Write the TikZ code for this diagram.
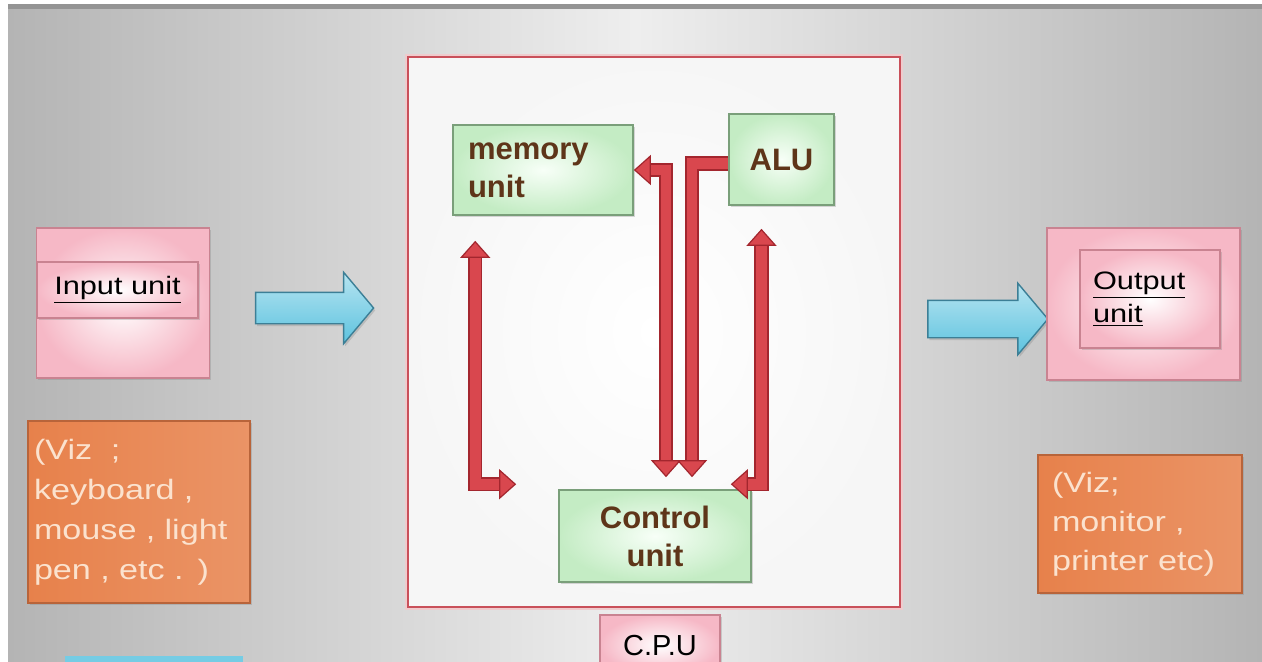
\documentclass[tikz,border=0pt]{standalone}
\usepackage{fontspec}
\setmainfont{Liberation Sans}
\newfontfamily\widefont[FakeStretch=1.22]{Liberation Sans}
\usepackage{tikz}
\usetikzlibrary{positioning}
\usetikzlibrary{calc}
\usetikzlibrary{arrows.meta,shapes.arrows}
\usetikzlibrary{shadows}
\definecolor{bgedge}{HTML}{B4B4B4}
\definecolor{bgmid}{HTML}{EEEEEE}
\definecolor{cpuline}{HTML}{C9505A}
\definecolor{boxgreen}{HTML}{C4ECC4}
\definecolor{greenline}{HTML}{7A9F7A}
\definecolor{boxpink}{HTML}{F6B8C6}
\definecolor{pinkline}{HTML}{C98391}
\definecolor{boxorange}{HTML}{E7814B}
\definecolor{orangeline}{HTML}{B8643A}
\definecolor{orangetext}{HTML}{FBE2CE}
\definecolor{labelbrown}{HTML}{5E3519}
\definecolor{flowred}{HTML}{D9474E}
\definecolor{flowedge}{HTML}{A3262E}
\definecolor{arrowblue}{HTML}{5DC3DF}
\definecolor{arrowline}{HTML}{3C7F96}

\tikzset{
  boxshadow/.style={drop shadow={shadow xshift=0.8pt, shadow yshift=-1.2pt, opacity=0.3}},
  cpubox/.style={draw=cpuline, line width=1pt, inner color=white, outer color=gray!7,
    preaction={draw=cpuline!30, line width=3pt}},
  unitbox/.style={draw=greenline, line width=0.8pt, inner color=green!3, outer color=boxgreen,
    boxshadow, text=labelbrown, font=\fontsize{15.5}{19}\selectfont\bfseries},
  iobox/.style={draw=pinkline, line width=0.8pt, inner color=white, outer color=boxpink,
    boxshadow, text=black, font=\widefont\fontsize{12.6}{16.5}\selectfont},
  vizbox/.style={draw=orangeline, line width=0.8pt, left color=boxorange, right color=boxorange!85!white,
    boxshadow, text=orangetext, align=left, anchor=center},
  ftip/.tip={Triangle[width=15pt,length=8.5pt,fill=flowred,color=flowedge,line width=0.6pt]},
  flowboth/.style={draw=flowred, line width=5.4pt, arrows=ftip-ftip,
    preaction={draw=flowedge, line width=7.2pt, arrows=-, shorten <=8pt, shorten >=8pt}},
  flowend/.style={draw=flowred, line width=5.4pt, arrows=-ftip,
    preaction={draw=flowedge, line width=7.2pt, arrows=-, shorten >=8pt}},
  bigarrow/.style={single arrow, draw=arrowline, line width=0.7pt, top color=arrowblue!45!white,
    bottom color=arrowblue, single arrow tip angle=100, inner xsep=0pt, boxshadow}
}

\begin{document}
\begin{tikzpicture}[x=0.5pt, y=-0.5pt]

\useasboundingbox (0,0) rectangle (1262,661);
\clip (0,0) rectangle (1262,661);

% slide background
\fill[white] (0,0) rectangle (1262,661);
\shade[left color=bgedge, right color=bgedge, middle color=bgmid] (8,4) rectangle (1262,661);
\fill[black!42] (8,4) rectangle (1262,9);
\fill[arrowblue!85] (65,656) rectangle (243,672);

% processor
\node[cpubox, minimum width=246pt, minimum height=275pt] (cpu) at (654,332) {};
\node[iobox, font=\fontsize{14.5}{17}\selectfont, minimum width=60pt, minimum height=30pt] (cpulabel) at (660,645) {C.P.U};

\node[unitbox, align=left, text width=75pt, inner xsep=7.5pt, minimum height=45pt] (mem) at (543,170) {memory\\unit};
\node[unitbox, minimum width=52.5pt, minimum height=45.5pt] (alu) at (781.5,159.5) {ALU};
\node[unitbox, align=center, minimum width=96pt, minimum height=46pt] (ctrl) at (655,536) {Control\\unit};

% data paths inside the cpu
\draw[flowboth] ($(mem.south west)+(23,25)$) |- ($(ctrl.north west)+(-42,-5)$);
\draw[flowboth] (mem.east) -| ($(ctrl.north)+(11,-12)$);
\draw[flowend] ($(alu.west)+(0,4)$) -| ($(ctrl.north)+(37,-12)$);
\draw[flowboth] ($(ctrl.north east)+(-21,-5)$) -| ($(alu.south)+(-20,23)$);

% input side
\node[iobox, minimum width=86.5pt, minimum height=75pt] (inbox) at (123,303) {};
\node[iobox, minimum width=80.5pt, minimum height=28pt] (inunit) at (117.5,290) {\underline{Input unit}};
\node[vizbox, font=\widefont\fontsize{14}{20}\selectfont, text width=105pt, inner xsep=3pt,
  minimum height=91pt] (inviz) at (139,512) {(Viz\ \ ;\\keyboard ,\\mouse , light\\pen , etc . )};
\node[bigarrow, minimum height=59pt, inner ysep=7.5pt, single arrow head extend=10pt] (inarrow) at (308,308) {};

% output side
\node[bigarrow, minimum height=60pt, inner ysep=9pt, single arrow head extend=8.5pt] (outarrow) at (980,319) {};
\node[iobox, minimum width=96.5pt, minimum height=76pt] (outbox) at (1143.5,304) {};
\node[iobox, align=left, text width=57pt, inner xsep=6.5pt, minimum height=49pt] (outunit) at (1150,299) {\underline{Output}\\\underline{unit}};
\node[vizbox, font=\widefont\fontsize{14}{19.5}\selectfont, text width=88pt, inner xsep=7pt,
  minimum height=69pt] (outviz) at (1140,524) {(Viz;\\monitor ,\\printer etc)};

\end{tikzpicture}
\end{document}
